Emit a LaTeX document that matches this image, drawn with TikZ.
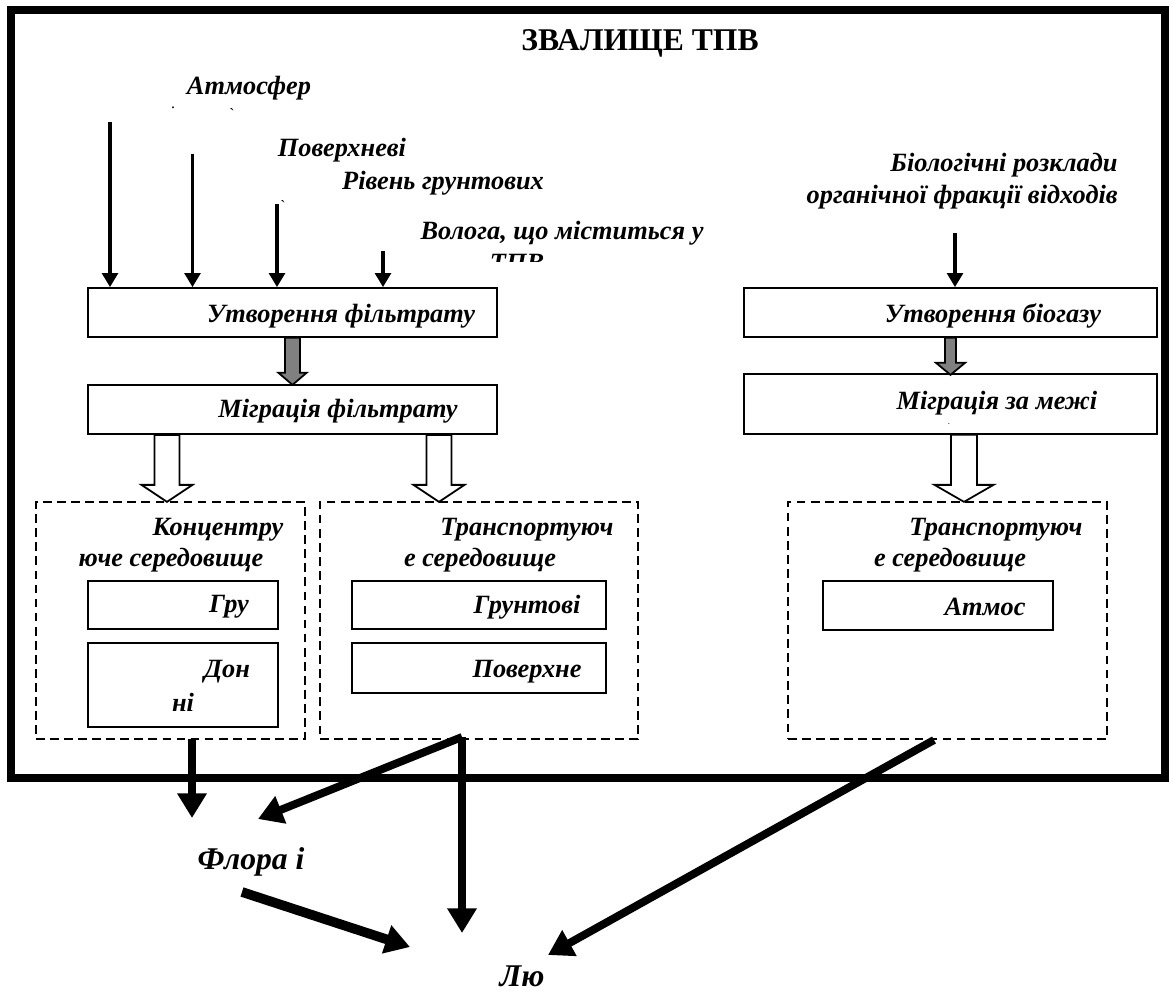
\documentclass[tikz,border=0pt]{standalone}
\usepackage{fontspec}
\setmainfont{Liberation Serif}
\usetikzlibrary{arrows.meta,calc}
\begin{document}
\begin{tikzpicture}[x=0.02cm,y=-0.02cm]
	\tikzstyle{box}=[rectangle,draw=black,line width=1pt,inner sep=0pt]
	\tikzstyle{dbox}=[rectangle,draw=black,line width=0.8pt,dash pattern=on 5pt off 3pt,inner sep=0pt]
	\tikzstyle{txt}=[font=\fontsize{15}{18}\selectfont\bfseries\itshape,inner sep=0pt]
	\tikzstyle{big}=[font=\fontsize{18}{22}\selectfont\bfseries\itshape,inner sep=0pt]
	\tikzstyle{thin}=[line width=1.8pt,-{Triangle[width=9pt,length=8pt]}]
	\tikzstyle{thick}=[line width=4.5pt,-{Triangle[width=16pt,length=14pt]}]
	\tikzstyle{garrow}=[draw=black,line width=1pt,fill=gray]
	\tikzstyle{warrow}=[draw=black,line width=1pt,fill=white]
	\useasboundingbox (0,0) rectangle (1173,996);
	\fill[white] (0,0) rectangle (1173,996);
	
	% landfill frame
	\draw[line width=5pt] (11,10) rectangle (1165,778);
	\node[inner sep=0pt,font=\fontsize{18}{22}\selectfont\bfseries] (title) at (640,43) {ЗВАЛИЩЕ ТПВ};
	
	% inputs
	\node[txt] (atmo) at (249,88)  {Атмосфер};
	\node[txt,font=\small] (d1) at (173,108) {.};
	\node[txt,font=\small] (d2) at (232,114) {\textasciigrave};
	\node[txt] (pover) at (342,150) {Поверхневі};
	\node[txt] (riven) at (443,183) {Рівень грунтових};
	\node[txt,font=\small] (d3) at (283,206) {\textasciigrave};
	\node[txt] (vol)   at (562,233) {Волога, що міститься у};
	\begin{scope}
	\clip (470,248) rectangle (570,262);
	\node[txt] (tpv) at (517,263) {ТПВ};
	\end{scope}
	\node[txt,align=right,anchor=east] (bio) at (1118,181) {Біологічні розклади\\органічної фракції відходів};
	
	% main boxes
	\node[box,minimum width=8.18cm,minimum height=0.98cm] (filt) at (292.5,312.5) {};
	\node[box,minimum width=8.18cm,minimum height=0.98cm] (migf) at (292.5,409.5) {};
	\node[box,minimum width=8.26cm,minimum height=0.98cm] (biog) at (950.5,312.5) {};
	\node[box,minimum width=8.26cm,minimum height=1.2cm]  (migb) at (950.5,404) {};
	\node[txt] at (341,316) {Утворення фільтрату};
	\node[txt] at (338,411) {Міграція фільтрату};
	\node[txt] at (993,316) {Утворення біогазу};
	\node[txt] at (997,403) {Міграція за межі};
	\node[txt,font=\tiny] (d4) at (949,424) {.};
	
	% media
	\node[dbox,minimum width=5.38cm,minimum height=4.74cm] (conc) at (170.5,620.5) {};
	\node[dbox,minimum width=6.36cm,minimum height=4.74cm] (tr1)  at (479,620.5) {};
	\node[dbox,minimum width=6.38cm,minimum height=4.74cm] (tr2)  at (947.5,620.5) {};
	\node[txt] at (218,530) {Концентру};
	\node[txt] at (171,560) {юче середовище};
	\node[txt] at (527,530) {Транспортуюч};
	\node[txt] at (480,560) {е середовище};
	\node[txt] at (996,530) {Транспортуюч};
	\node[txt] at (950,560) {е середовище};
	
	\node[box,minimum width=3.8cm,minimum height=0.96cm]  (gru)   at (183,605) {};
	\node[box,minimum width=3.8cm,minimum height=1.68cm]  (don)   at (183,685) {};
	\node[box,minimum width=5.08cm,minimum height=0.96cm] (grunt) at (479,605) {};
	\node[box,minimum width=5.08cm,minimum height=1.0cm]  (pov)   at (479,668) {};
	\node[box,minimum width=4.6cm,minimum height=0.98cm]  (atm)   at (938,605.5) {};
	\node[txt] at (229,607) {Гру};
	\node[txt] at (227,672) {Дон};
	\node[txt] at (183,702) {ні};
	\node[txt] at (527,607) {Грунтові};
	\node[txt] at (527,672) {Поверхне};
	\node[txt] at (985,607) {Атмос};
	
	% receptors
	\node[big] (flora) at (251,862) {Флора і};
	\node[big] (lyu)   at (522,976) {Лю};
	
	\coordinate (a1) at (110,122);
	\coordinate (a2) at (192.5,154);
	\coordinate (a3) at (277,204);
	\coordinate (a4) at (383,251);
	\coordinate (b1) at (955,233);
	\coordinate (c1) at (192,739);
	\coordinate (t1) at (462,737);
	\coordinate (t2) at (934,740);
	\coordinate (f1) at (192,818);
	\coordinate (f2) at (258,819);
	\coordinate (f3) at (242,892);
	\coordinate (l1) at (462,933);
	\coordinate (l2) at (548,955);
	\coordinate (l3) at (410,947);
	
	\draw[thin] (a1) -- (a1 |- filt.north);
	\draw[thin] (a2) -- (a2 |- filt.north);
	\draw[thin] (a3) -- (a3 |- filt.north);
	\draw[thin] (a4) -- (a4 |- filt.north);
	\draw[thin] (b1) -- (b1 |- biog.north);
	
	\draw[garrow] (filt.south) ++(-7.5,0) -- ++(0,35) -- ++(-6.5,0) -- ++(14,12) -- ++(14,-12) -- ++(-6.5,0) -- ++(0,-35) -- cycle;
	\draw[garrow] (biog.south) ++(-5.5,0) -- ++(0,25) -- ++(-9,0) -- ++(14.5,12) -- ++(14.5,-12) -- ++(-9,0) -- ++(0,-25) -- cycle;
	\draw[warrow] (migf.south) ++(-138,0) -- ++(0,50) -- ++(-13,0) -- ++(25.5,17) -- ++(25.5,-17) -- ++(-13,0) -- ++(0,-50) -- cycle;
	\draw[warrow] (migf.south) ++(134,0) -- ++(0,50) -- ++(-13,0) -- ++(25.5,17) -- ++(25.5,-17) -- ++(-13,0) -- ++(0,-50) -- cycle;
	\draw[warrow] (migb.south) ++(0.5,0) -- ++(0,50) -- ++(-16.5,0) -- ++(29.5,17) -- ++(29.5,-17) -- ++(-16.5,0) -- ++(0,-50) -- cycle;
	
	\draw[thick] (c1) -- (f1);
	\draw[thick] (t1) -- (f2);
	\draw[thick] (t1) -- (l1);
	\draw[thick] (t2) -- (l2);
	\draw[thick,line width=5.5pt] (f3) -- (l3);
\end{tikzpicture}
\end{document}
